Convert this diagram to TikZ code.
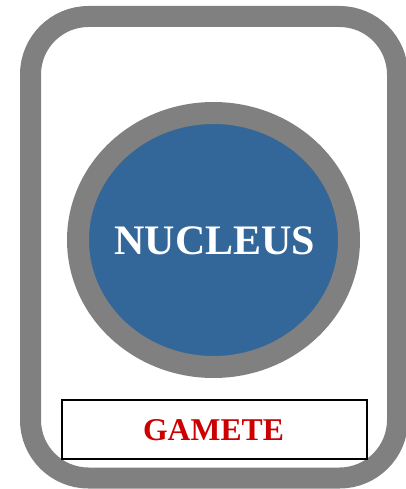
\documentclass[tikz,border=0pt]{standalone}
\usepackage{fontspec}
\usetikzlibrary{shapes.geometric}
\setmainfont{Liberation Serif}
\definecolor{framegray}{RGB}{128,128,128}
\definecolor{nucblue}{RGB}{51,102,153}
\definecolor{gamred}{RGB}{204,0,0}
\begin{document}
\begin{tikzpicture}[x=1pt,y=-1pt,
  frame/.style={draw=framegray,line width=21pt,rounded corners=58pt},
  nucleusshape/.style={ellipse,draw=framegray,fill=nucblue,line width=22pt,minimum width=271pt,minimum height=254pt,inner sep=0pt},
  gamebox/.style={draw=black,line width=1.3pt,minimum width=305pt,minimum height=59pt,inner sep=0pt}]
\useasboundingbox (0,0) rectangle (405,489);
\draw[frame] (30.5,16.5) rectangle (397.5,478);
\node[nucleusshape] (nucleus) at (213.5,240) {};
\node[text=white,font=\fontsize{42}{42}\selectfont\bfseries,anchor=base] (nuctext) at (215,254) {NUCLEUS};
\node[gamebox] (gamete) at (214.5,429.5) {};
\node[text=gamred,font=\fontsize{31.7}{32}\selectfont\bfseries,anchor=base] (gamtext) at (213.5,440) {GAMETE};
\end{tikzpicture}
\end{document}
